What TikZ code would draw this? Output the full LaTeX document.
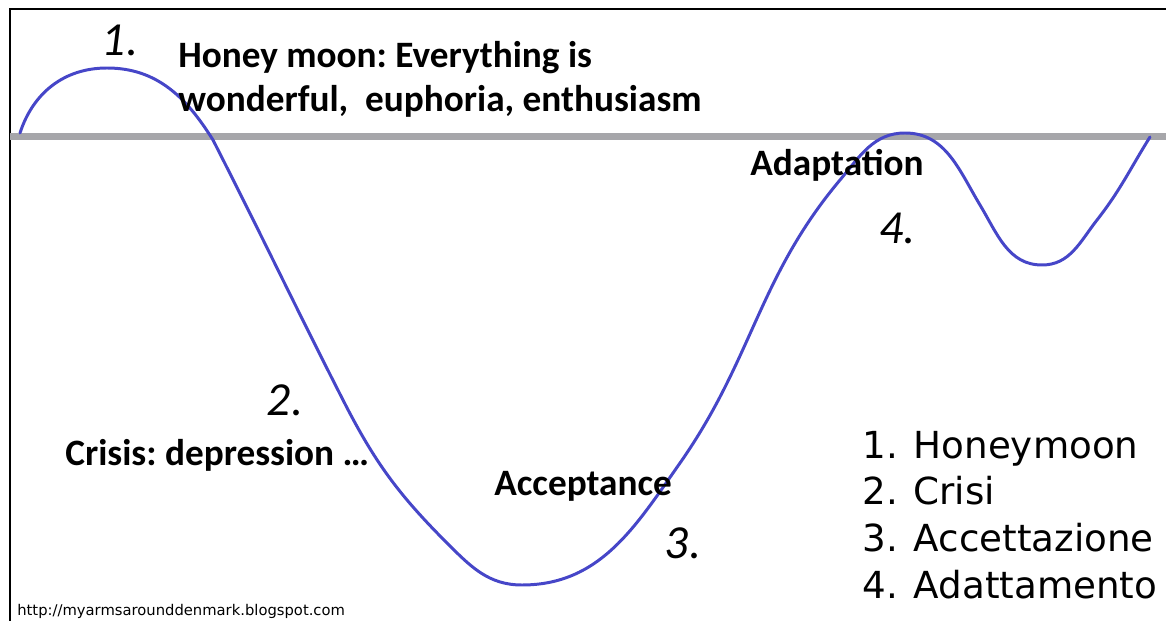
\documentclass[tikz,border=0pt]{standalone}
\usepackage{fontspec}
\setmainfont{Carlito}
\newfontfamily\listfont{DejaVu Sans}
\usepackage{tikz}
\definecolor{curveblue}{RGB}{70,70,200}
\definecolor{levelgrey}{RGB}{166,166,170}
\frenchspacing

\begin{document}
\begin{tikzpicture}[
    x=0.02cm, y=-0.02cm,
    phase/.style={
        inner sep=0pt, anchor=west,
        font=\fontsize{21.2}{25}\selectfont\bfseries
    },
    hand/.style={
        inner sep=0pt,
        font=\fontsize{27}{27}\selectfont\itshape
    },
    legend/.style={
        inner sep=0pt, anchor=base west, align=left,
        font=\listfont\fontsize{21.2}{26.5}\selectfont\nonfrenchspacing
    }
]
    \useasboundingbox (0,0) rectangle (1166,621);
    % frame and reference level
    \draw[line width=0.8pt] (10,621) -- (10,9) -- (1166,9);
    \draw[levelgrey, line width=4pt] (10,136.5) -- (1166,136.5);
    % culture shock curve
    \draw[curveblue, line width=1.7pt, line cap=round]
        (20,133) to[out=72,in=180] (107,68)
        to[out=0,in=122] (213,140)
        to[out=-63,in=117] (343,400)
        to[out=-63,in=135] (447,543)
        to[out=-45,in=180] (522,585)
        to[out=0,in=-125] (680,463)
        to[out=55,in=-130] (840,180)
        to[out=50,in=180] (905,133)
        to[out=0,in=121] (980,205)
        to[out=-59,in=180] (1042,265)
        to[out=0,in=-128] (1097,220)
        to[out=52,in=-122] (1150,137);
    % phase labels
    \node[phase, anchor=north west, align=left] (honey) at (178,41)
        {Honey moon: Everything is\\wonderful,\ \ euphoria, enthusiasm};
    \node[phase] (crisis) at (65,455) {Crisis: depression …};
    \node[phase] (accept) at (494,486) {Acceptance};
    \node[phase] (adapt) at (750,165) {Adaptation};
    % handwritten numbers
    \node[hand] (n1) at (120,40) {1.};
    \node[hand] (n2) at (285,400) {2.};
    \node[hand] (n3) at (683,543) {3.};
    \node[hand] (n4) at (897,228) {4.};
    % legend
    \node[legend] (key) at (862,598)
        {1. Honeymoon\\2. Crisi\\3. Accettazione\\4. Adattamento};
    \node[inner sep=0pt, anchor=base west, font=\listfont\fontsize{8.4}{8.4}\selectfont]
        (url) at (17,615) {http://myarmsarounddenmark.blogspot.com};
\end{tikzpicture}
\end{document}
